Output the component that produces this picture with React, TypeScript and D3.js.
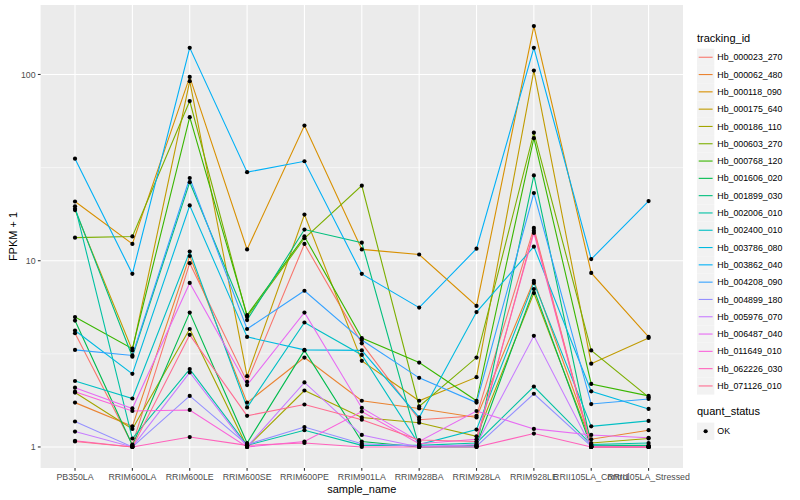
import React from 'react';
import * as d3 from 'd3';

const sampleNames = [
  'PB350LA', 'RRIM600LA', 'RRIM600LE', 'RRIM600SE', 'RRIM600PE', 'RRIM901LA',
  'RRIM928BA', 'RRIM928LA', 'RRIM928LE', 'RRII105LA_Control', 'RRII105LA_Stressed',
];

// FPKM + 1, one value per sample
const hb000023_270 = [4.08, 1.03, 9.7, 2.24, 12.3, 3.6, 1.4, 1.47, 15.0, 1.0, 1.0];
const hb000062_480 = [1.73, 1.29, 10.6, 1.73, 3.02, 1.77, 1.61, 1.44, 7.8, 1.1, 1.23];
const hb000118_090 = [20.8, 12.3, 97, 11.5, 53.2, 11.5, 10.8, 5.72, 182, 8.6, 3.9];
const hb000175_640 = [18.7, 3.3, 92, 2.4, 17.7, 2.9, 1.77, 2.37, 105, 2.8, 3.85];
const hb000186_110 = [1.96, 1.25, 4.3, 1.0, 2.01, 1.44, 1.35, 1.14, 6.7, 1.05, 1.11];
const hb000603_270 = [13.3, 13.5, 72, 5.0, 13.2, 25.3, 1.65, 3.02, 48.7, 3.3, 1.85];
const hb000768_120 = [4.98, 3.37, 59, 5.1, 13.5, 3.84, 2.84, 1.77, 45.5, 2.18, 1.88];
const hb001606_020 = [4.77, 1.02, 5.27, 1.05, 3.3, 1.07, 1.0, 1.02, 7.05, 1.0, 1.0];
const hb001899_030 = [19.0, 3.05, 26.4, 4.8, 14.7, 12.5, 1.0, 1.0, 28.7, 1.02, 1.02];
const hb002006_010 = [19.6, 1.11, 2.62, 1.02, 1.23, 1.02, 1.02, 1.05, 2.11, 1.03, 1.05];
const hb002400_010 = [2.26, 1.82, 11.2, 1.63, 4.66, 3.12, 1.03, 1.24, 7.6, 1.29, 1.38];
const hb003786_080 = [4.22, 2.47, 19.8, 3.9, 3.32, 3.3, 1.44, 5.3, 11.9, 1.99, 1.6];
const hb003862_040 = [35.3, 8.5, 139, 29.9, 34.2, 8.5, 5.6, 11.6, 139, 10.2, 20.9];
const hb004208_090 = [3.32, 3.1, 27.8, 4.3, 6.9, 3.75, 2.35, 1.73, 23.1, 1.7, 1.81];
const hb004899_180 = [1.37, 1.0, 1.88, 1.03, 1.28, 1.04, 1.01, 1.01, 1.93, 1.01, 1.0];
const hb005976_070 = [1.21, 1.0, 2.51, 1.0, 2.22, 1.16, 1.0, 1.03, 3.95, 1.0, 1.0];
const hb006487_040 = [2.08, 1.61, 7.6, 2.15, 5.27, 1.62, 1.07, 1.56, 1.25, 1.16, 1.12];
const hb011649_010 = [1.98, 1.56, 1.58, 1.0, 1.07, 1.55, 1.04, 1.1, 14.1, 1.0, 1.0];
const hb062226_030 = [1.08, 1.0, 1.13, 1.02, 1.05, 1.0, 1.0, 1.0, 1.18, 1.0, 1.0];
const hb071126_010 = [1.07, 1.0, 4.0, 1.47, 1.69, 1.4, 1.09, 1.07, 14.5, 1.0, 1.0];

const trackingIds = [
  'Hb_000023_270', 'Hb_000062_480', 'Hb_000118_090', 'Hb_000175_640', 'Hb_000186_110',
  'Hb_000603_270', 'Hb_000768_120', 'Hb_001606_020', 'Hb_001899_030', 'Hb_002006_010',
  'Hb_002400_010', 'Hb_003786_080', 'Hb_003862_040', 'Hb_004208_090', 'Hb_004899_180',
  'Hb_005976_070', 'Hb_006487_040', 'Hb_011649_010', 'Hb_062226_030', 'Hb_071126_010',
];

const seriesValues = [
  hb000023_270, hb000062_480, hb000118_090, hb000175_640, hb000186_110,
  hb000603_270, hb000768_120, hb001606_020, hb001899_030, hb002006_010,
  hb002400_010, hb003786_080, hb003862_040, hb004208_090, hb004899_180,
  hb005976_070, hb006487_040, hb011649_010, hb062226_030, hb071126_010,
];

const quantStatus = ['OK'];
const yMajor = [1, 10, 100];
const yMinor = [Math.pow(10, 0.5), Math.pow(10, 1.5)];

// ggplot2 default hue palette for 20 levels
const palette = [
  '#F8766D', '#EA8331', '#D89000', '#C09B00', '#A3A500', '#7CAE00', '#39B600', '#00BB4E',
  '#00BF7D', '#00C1A3', '#00BFC4', '#00BAE0', '#00B0F6', '#35A2FF', '#9590FF', '#C77CFF',
  '#E76BF3', '#FA62DB', '#FF62BC', '#FF6C91',
];

const FONT = '"Liberation Sans", Arial, Helvetica, sans-serif';

export default function App() {
  const width = 800;
  const height = 500;
  const panel = { left: 40.6, right: 683, top: 5, bottom: 468 };

  const x = d3.scalePoint<string>().domain(sampleNames).range([panel.left, panel.right]).padding(0.6);

  const all = seriesValues.flat();
  const [lo, hi] = d3.extent(all) as [number, number];
  const pad = (Math.log10(hi) - Math.log10(lo)) * 0.05;
  const y = d3
    .scaleLog()
    .domain([Math.pow(10, Math.log10(lo) - pad), Math.pow(10, Math.log10(hi) + pad)])
    .range([panel.bottom, panel.top]);

  const line = d3
    .line<number>()
    .x((_, i) => x(sampleNames[i]) ?? 0)
    .y(d => y(d));

  const legendX = 697;
  const keySize = 17.3;
  const firstKeyTop = 48.6;
  const qsTitleY = firstKeyTop + keySize * trackingIds.length + 20;

  return (
    <svg
      width={width}
      height={height}
      viewBox={`0 0 ${width} ${height}`}
      style={{ position: 'absolute', left: 0, top: 0, background: '#fff' }}
      fontFamily={FONT}
    >
      <rect x={panel.left} y={panel.top} width={panel.right - panel.left} height={panel.bottom - panel.top} fill="#EBEBEB" />
      {yMinor.map(t => (
        <line key={`mn${t}`} x1={panel.left} x2={panel.right} y1={y(t)} y2={y(t)} stroke="#fff" strokeWidth={0.55} />
      ))}
      {yMajor.map(t => (
        <line key={`mj${t}`} x1={panel.left} x2={panel.right} y1={y(t)} y2={y(t)} stroke="#fff" strokeWidth={1.1} />
      ))}
      {sampleNames.map(s => (
        <line key={`vx${s}`} x1={x(s)} x2={x(s)} y1={panel.top} y2={panel.bottom} stroke="#fff" strokeWidth={1.1} />
      ))}

      {seriesValues.map((vals, i) => (
        <path key={trackingIds[i]} d={line(vals) ?? ''} fill="none" stroke={palette[i]} strokeWidth={1.1} />
      ))}
      {seriesValues.map((vals, i) =>
        vals.map((v, j) => (
          <circle key={`${i}-${j}`} cx={x(sampleNames[j])} cy={y(v)} r={2.1} fill="#000" />
        ))
      )}

      {/* y axis */}
      {yMajor.map(t => (
        <g key={`yt${t}`}>
          <line x1={panel.left - 2.75} x2={panel.left} y1={y(t)} y2={y(t)} stroke="#333" strokeWidth={1.1} />
          <text x={panel.left - 5} y={y(t)} dy="0.35em" textAnchor="end" fontSize={8.8} fill="#4D4D4D">
            {t}
          </text>
        </g>
      ))}
      <text
        transform={`translate(13, ${(panel.top + panel.bottom) / 2}) rotate(-90)`}
        textAnchor="middle"
        dy="0.35em"
        fontSize={11}
        fill="#000"
      >
        FPKM + 1
      </text>

      {/* x axis */}
      {sampleNames.map(s => (
        <g key={`xt${s}`}>
          <line x1={x(s)} x2={x(s)} y1={panel.bottom} y2={panel.bottom + 2.75} stroke="#333" strokeWidth={1.1} />
          <text x={x(s)} y={panel.bottom + 11.5} textAnchor="middle" fontSize={8.8} fill="#4D4D4D">
            {s}
          </text>
        </g>
      ))}
      <text x={(panel.left + panel.right) / 2} y={panel.bottom + 24.5} textAnchor="middle" fontSize={11} fill="#000">
        sample_name
      </text>

      {/* legend: tracking_id */}
      <text x={legendX} y={42} fontSize={11} fill="#000">
        tracking_id
      </text>
      {trackingIds.map((id, i) => {
        const top = firstKeyTop + i * keySize;
        return (
          <g key={`lg${id}`}>
            <rect x={legendX} y={top} width={keySize} height={keySize} fill="#F2F2F2" />
            <line
              x1={legendX + 1.7}
              x2={legendX + keySize - 1.7}
              y1={top + keySize / 2}
              y2={top + keySize / 2}
              stroke={palette[i]}
              strokeWidth={1.1}
            />
            <text x={legendX + keySize + 3} y={top + keySize / 2} dy="0.35em" fontSize={8.8} fill="#000">
              {id}
            </text>
          </g>
        );
      })}

      {/* legend: quant_status */}
      <text x={legendX} y={qsTitleY} fontSize={11} fill="#000">
        quant_status
      </text>
      {quantStatus.map((q, i) => {
        const top = qsTitleY + 8 + i * keySize;
        return (
          <g key={`qs${q}`}>
            <rect x={legendX} y={top} width={keySize} height={keySize} fill="#F2F2F2" />
            <circle cx={legendX + keySize / 2} cy={top + keySize / 2} r={2.1} fill="#000" />
            <text x={legendX + keySize + 3} y={top + keySize / 2} dy="0.35em" fontSize={8.8} fill="#000">
              {q}
            </text>
          </g>
        );
      })}
    </svg>
  );
}
